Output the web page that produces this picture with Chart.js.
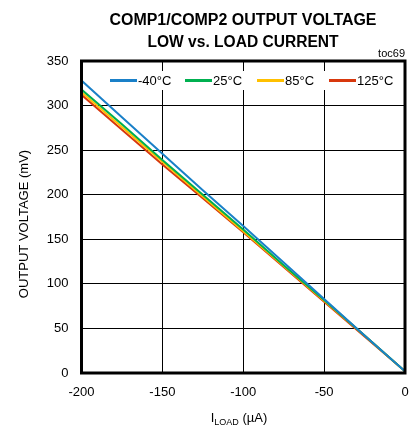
<!DOCTYPE html>
<html>
<head>
<meta charset="utf-8">
<script src="https://cdn.jsdelivr.net/npm/chart.js@4/dist/chart.umd.min.js"></script>
<style>
html,body{margin:0;padding:0;background:#fff;}
#wrap{width:409px;height:427px;position:relative;}
</style>
</head>
<body>
<div id="wrap"><canvas id="c" width="409" height="427"></canvas></div>
<script>
// Data
const loadCurrent = [-200, -175, -150, -125, -100, -75, -50, -25, 0];
const vMinus40 = [328, 287, 246, 205, 165, 124, 83, 42, 2];
const v25 = [318, 279, 239, 200, 161, 121, 82, 42, 2];
const v85 = [315, 276, 237, 198, 159, 120, 81, 42, 2];
const v125 = [312, 273, 234, 196, 158, 119, 80, 41, 2];
const seriesLabels = ['-40°C', '25°C', '85°C', '125°C'];
const seriesColors = ['#1a80c8', '#00b050', '#ffc000', '#d8380d'];
const xTicks = [-200, -150, -100, -50, 0];
const yTicks = [0, 50, 100, 150, 200, 250, 300, 350];
const titleLines = ['COMP1/COMP2 OUTPUT VOLTAGE', 'LOW vs. LOAD CURRENT'];

const FONT = '"Liberation Sans", Arial, sans-serif';
const allSeries = [vMinus40, v25, v85, v125];

const datasets = allSeries.map((vals, i) => ({
  label: seriesLabels[i],
  data: loadCurrent.map((x, j) => ({x: x, y: vals[j]})),
  borderColor: seriesColors[i],
  backgroundColor: seriesColors[i],
  borderWidth: 2,
  pointRadius: 0,
  tension: 0,
  fill: false
}));

function drawScaled(ctx, text, cx, y, targetW) {
  const w = ctx.measureText(text).width;
  const s = targetW ? targetW / w : 1;
  ctx.save();
  ctx.translate(cx, y);
  ctx.scale(s, 1);
  ctx.textAlign = 'center';
  ctx.fillText(text, 0, 0);
  ctx.restore();
}

const decor = {
  id: 'decor',
  afterDatasetsDraw(chart) {
    const ctx = chart.ctx;
    const a = chart.chartArea;
    // frame
    ctx.save();
    ctx.strokeStyle = '#000';
    ctx.lineWidth = 3;
    ctx.strokeRect(a.left, a.top, a.right - a.left, a.bottom - a.top);
    ctx.restore();

    // legend inside plot
    ctx.save();
    ctx.fillStyle = '#fff';
    ctx.fillRect(105, 71, 292, 19);
    ctx.font = '13px ' + FONT;
    ctx.textBaseline = 'middle';
    const lx = [110, 185, 257, 329];
    seriesLabels.forEach((lab, i) => {
      ctx.strokeStyle = seriesColors[i];
      ctx.lineWidth = 3;
      ctx.beginPath();
      ctx.moveTo(lx[i], 80.5);
      ctx.lineTo(lx[i] + 27, 80.5);
      ctx.stroke();
      ctx.fillStyle = '#000';
      ctx.textAlign = 'left';
      ctx.fillText(lab, lx[i] + 28, 81);
    });
    ctx.restore();

    // title
    ctx.save();
    ctx.fillStyle = '#000';
    ctx.font = 'bold 16px ' + FONT;
    ctx.textBaseline = 'alphabetic';
    const cx = 243;
    drawScaled(ctx, titleLines[0], cx, 25, 267);
    drawScaled(ctx, titleLines[1], cx, 47, 191);
    // toc label
    ctx.font = '11px ' + FONT;
    ctx.textAlign = 'right';
    ctx.fillText('toc69', 405, 57);
    ctx.restore();

    // y axis title
    ctx.save();
    ctx.fillStyle = '#000';
    ctx.font = '13px ' + FONT;
    ctx.translate(24, 224);
    ctx.rotate(-Math.PI / 2);
    ctx.textAlign = 'center';
    ctx.textBaseline = 'middle';
    ctx.fillText('OUTPUT VOLTAGE (mV)', 0, 0);
    ctx.restore();

    // x axis title with subscript
    ctx.save();
    ctx.fillStyle = '#000';
    ctx.textBaseline = 'alphabetic';
    ctx.textAlign = 'left';
    const f1 = '13px ' + FONT, f2 = '9px ' + FONT;
    ctx.font = f1; const wI = ctx.measureText('I').width; const wU = ctx.measureText(' (µA)').width;
    ctx.font = f2; const wL = ctx.measureText('LOAD').width;
    let x = 239 - (wI + wL + wU) / 2;
    const base = 422;
    ctx.font = f1; ctx.fillText('I', x, base); x += wI;
    ctx.font = f2; ctx.fillText('LOAD', x, base + 3); x += wL;
    ctx.font = f1; ctx.fillText(' (µA)', x, base);
    ctx.restore();
  }
};

new Chart(document.getElementById('c'), {
  type: 'line',
  data: { datasets: datasets },
  options: {
    responsive: false,
    animation: false,
    devicePixelRatio: 1,
    layout: { padding: { top: 61, right: 4, left: 0, bottom: 0 } },
    plugins: { legend: { display: false }, title: { display: false }, tooltip: { enabled: false } },
    scales: {
      x: {
        type: 'linear', min: -200, max: 0,
        afterBuildTicks(s) { s.ticks = xTicks.map(v => ({value: v})); },
        afterFit(s) { s.height = 54; s.paddingRight = 0; s.paddingLeft = 0; },
        ticks: { color: '#000', font: { size: 13, family: FONT }, padding: 12, maxRotation: 0 },
        grid: { color: '#000', lineWidth: 1, drawTicks: false },
        border: { display: false }
      },
      y: {
        type: 'linear', min: 0, max: 350,
        afterBuildTicks(s) { s.ticks = yTicks.map(v => ({value: v})); },
        afterFit(s) { s.width = 81.5; s.paddingTop = 0; s.paddingBottom = 0; },
        ticks: { color: '#000', font: { size: 13, family: FONT }, padding: 13 },
        grid: { color: '#000', lineWidth: 1, drawTicks: false },
        border: { display: false }
      }
    }
  },
  plugins: [decor]
});
</script>
</body>
</html>
